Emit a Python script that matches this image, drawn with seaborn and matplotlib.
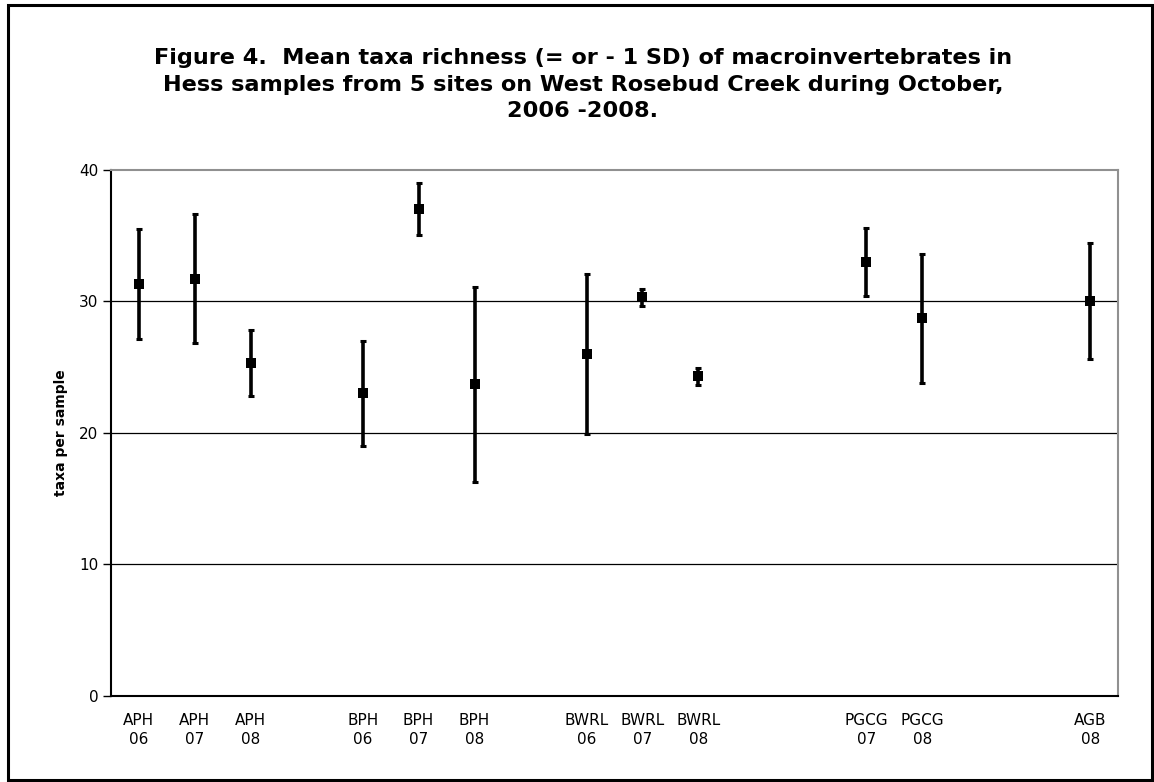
import numpy as np
import pandas as pd
import matplotlib
matplotlib.use("Agg")
import matplotlib.pyplot as plt
import seaborn as sns
from matplotlib.patches import Rectangle
from matplotlib.ticker import FixedLocator

sns.set_theme(style="white")
plt.rcParams['font.family'] = ['DejaVu Sans']
plt.rcParams['text.color'] = 'black'
plt.rcParams['axes.labelcolor'] = 'black'
plt.rcParams['xtick.color'] = 'black'
plt.rcParams['ytick.color'] = 'black'

categories = ["APH\n06", "APH\n07", "APH\n08", "",
              "BPH\n06", "BPH\n07", "BPH\n08", "",
              "BWRL\n06", "BWRL\n07", "BWRL\n08", "", "",
              "PGCG\n07", "PGCG\n08", "", "", "AGB\n08"]
means = [31.3, 31.7, 25.3, np.nan,
         23.0, 37.0, 23.7, np.nan,
         26.0, 30.3, 24.3, np.nan, np.nan,
         33.0, 28.7, np.nan, np.nan, 30.0]
sd = [4.2, 4.9, 2.5, np.nan,
      4.0, 2.0, 7.4, np.nan,
      6.1, 0.65, 0.65, np.nan, np.nan,
      2.6, 4.9, np.nan, np.nan, 4.4]
yticks = [0, 10, 20, 30, 40]

df = pd.DataFrame({"pos": np.arange(len(categories)), "label": categories,
                   "mean": means, "sd": sd}).dropna()

fig = plt.figure(figsize=(11.54, 7.82), dpi=100)
ax = fig.add_axes([0.096, 0.11, 0.873, 0.673])

ax.errorbar(df["pos"], df["mean"], yerr=df["sd"], fmt="none", ecolor="black",
            elinewidth=2.6, capsize=2.5, capthick=2.2, zorder=3)
sns.scatterplot(data=df, x="pos", y="mean", marker="s", color="black",
                s=55, edgecolor="black", linewidth=0, ax=ax, zorder=4)

ax.set_xlim(-0.5, len(categories) - 0.5)
ax.set_ylim(0, 40)
ax.set_yticks(yticks)
ax.set_yticklabels([str(t) for t in yticks], fontsize=11)
for t in yticks[1:4]:
    ax.axhline(t, color="black", linewidth=0.9, zorder=1)

ax.xaxis.set_major_locator(FixedLocator(np.arange(-0.5, len(categories), 1.0)))
ax.set_xticklabels([])
ax.xaxis.set_minor_locator(FixedLocator(np.arange(len(categories))))
ax.set_xticklabels(categories, minor=True, fontsize=11, linespacing=1.35)
ax.tick_params(axis="x", which="major", direction="inout", length=9, width=1, color="black")
ax.tick_params(axis="x", which="minor", length=0, pad=12)
ax.tick_params(axis="y", direction="out", length=6, width=1, color="black", pad=3, left=True)

ax.set_xlabel("")
ax.set_ylabel("taxa per sample", fontsize=10, fontweight="bold", labelpad=8)

for s in ["left", "bottom"]:
    ax.spines[s].set_color("black")
    ax.spines[s].set_linewidth(1.5)
for s in ["top", "right"]:
    ax.spines[s].set_color("#909090")
    ax.spines[s].set_linewidth(1.5)

fig.suptitle("Figure 4.  Mean taxa richness (= or - 1 SD) of macroinvertebrates in\n"
             "Hess samples from 5 sites on West Rosebud Creek during October,\n"
             "2006 -2008.", fontsize=16.1, fontweight="bold", y=0.938,
             x=0.505, linespacing=1.4, color="black")

W, H = 1154, 782
fig.patches.append(Rectangle((8 / W, 2 / H), (1152 - 8) / W, (777 - 2) / H,
                             transform=fig.transFigure, fill=False,
                             edgecolor="black", linewidth=2.2))

fig.savefig("out.png", dpi=100, facecolor="white")
